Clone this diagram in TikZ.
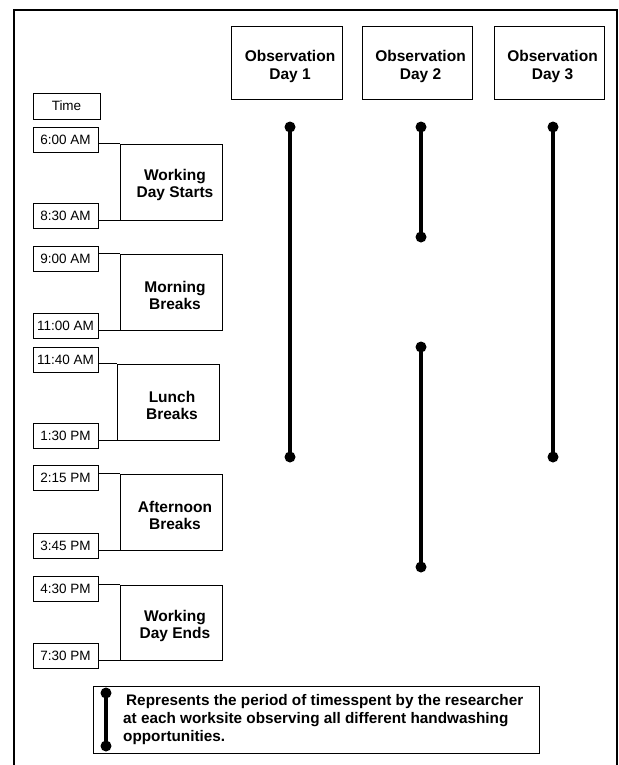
\documentclass[tikz,border=0pt]{standalone}
\usepackage{fontspec}
\setmainfont{Liberation Sans}
\begin{document}
\begin{tikzpicture}[x=1bp,y=-1bp,
  tbox/.style={draw,line width=0.8bp,minimum width=65bp,minimum height=25bp,inner sep=0pt,font=\fontsize{13.5bp}{16bp}\selectfont},
  ebox/.style={draw,line width=0.8bp,minimum width=102bp,minimum height=76bp,inner sep=0pt},
  obox/.style={draw,line width=0.8bp,minimum width=110bp,minimum height=73bp,inner sep=0pt},
  btext/.style={align=center,inner sep=0pt,font=\bfseries\fontsize{15.5bp}{17bp}\selectfont},
  otext/.style={align=center,inner sep=0pt,font=\bfseries\fontsize{15.5bp}{18bp}\selectfont},
  dot/.style={circle,fill=black,inner sep=0pt,minimum size=11bp},
  obsline/.style={line width=4bp},
  conn/.style={line width=0.8bp}]
\useasboundingbox (0,0) rectangle (619,765);
\fill[white] (0,0) rectangle (619,765);
\draw[line width=1.8bp] (14,767) -- (14,10) -- (617,10) -- (617,767);

% observation headers
\node[obox,minimum width=111bp] (o1) at (286.5,62.5) {};
\node[obox] (o2) at (417,62.5) {};
\node[obox] (o3) at (549,62.5) {};
\node[otext] (o1t) at ([xshift=3.5bp,yshift=-3.5bp]o1.center) {Observation\\Day 1};
\node[otext] (o2t) at ([xshift=3.5bp,yshift=-3.5bp]o2.center) {Observation\\Day 2};
\node[otext] (o3t) at ([xshift=3.5bp,yshift=-3.5bp]o3.center) {Observation\\Day 3};

% time column
\node[tbox,minimum width=67bp,minimum height=26bp] (time) at (66.5,106) {Time};
\node[tbox] (t1) at (65.5,139.5) {6:00 AM};
\node[tbox] (t2) at (65.5,215.5) {8:30 AM};
\node[tbox] (t3) at (65.5,258.5) {9:00 AM};
\node[tbox] (t4) at (65.5,326) {11:00 AM};
\node[tbox] (t5) at (65.5,360) {11:40 AM};
\node[tbox] (t6) at (65.5,436) {1:30 PM};
\node[tbox] (t7) at (65.5,478) {2:15 PM};
\node[tbox] (t8) at (65.5,546) {3:45 PM};
\node[tbox] (t9) at (65.5,589) {4:30 PM};
\node[tbox] (t10) at (65.5,655.5) {7:30 PM};

% event boxes
\node[ebox] (e1) at (171,182) {};
\node[ebox] (e2) at (171,292) {};
\node[ebox] (e3) at (168,402) {};
\node[ebox] (e4) at (171,512) {};
\node[ebox,minimum height=75bp] (e5) at (171,622.5) {};
\node[btext] (e1t) at ([xshift=4bp,yshift=-3bp]e1.center) {Working\\Day Starts};
\node[btext] (e2t) at ([xshift=4bp,yshift=-3bp]e2.center) {Morning\\Breaks};
\node[btext] (e3t) at ([xshift=4bp,yshift=-3bp]e3.center) {Lunch\\Breaks};
\node[btext] (e4t) at ([xshift=4bp,yshift=-3bp]e4.center) {Afternoon\\Breaks};
\node[btext] (e5t) at ([xshift=4bp,yshift=-3bp]e5.center) {Working\\Day Ends};

% connectors
\draw[conn] (e1.north west) -- (e1.north west -| t1.east);
\draw[conn] (e1.south west) -- (e1.south west -| t2.east);
\draw[conn] (e2.north west) -- (e2.north west -| t3.east);
\draw[conn] (e2.south west) -- (e2.south west -| t4.east);
\draw[conn] (e3.north west) -- (e3.north west -| t5.east);
\draw[conn] (e3.south west) -- (e3.south west -| t6.east);
\draw[conn] (e4.north west) -- (e4.north west -| t7.east);
\draw[conn] (e4.south west) -- (e4.south west -| t8.east);
\draw[conn] (e5.north west) -- (e5.north west -| t9.east);
\draw[conn] (e5.south west) -- (e5.south west -| t10.east);

% observation periods
\node[dot] (d1a) at (290,127) {};
\node[dot] (d1b) at (290,457) {};
\node[dot] (d2a) at (421,127) {};
\node[dot] (d2b) at (421,237) {};
\node[dot] (d2c) at (421,347) {};
\node[dot] (d2d) at (421,567) {};
\node[dot] (d3a) at (553,127) {};
\node[dot] (d3b) at (553,457) {};
\draw[obsline] (d1a.center) -- (d1b.center);
\draw[obsline] (d2a.center) -- (d2b.center);
\draw[obsline] (d2c.center) -- (d2d.center);
\draw[obsline] (d3a.center) -- (d3b.center);

% legend
\node[draw,line width=0.8bp,minimum width=446bp,minimum height=67bp,inner sep=0pt] (leg) at (316,719.5) {};
\node[dot] (la) at (106,693) {};
\node[dot] (lb) at (106,746) {};
\draw[obsline] (la.center) -- (lb.center);
\node[anchor=west,align=left,inner sep=0pt,font=\bfseries\fontsize{15.3bp}{18bp}\selectfont] (legtext) at (123,720) {\hspace{3bp}Represents the period of timesspent by the researcher\\at each worksite observing all different handwashing\\opportunities.};
\end{tikzpicture}
\end{document}
